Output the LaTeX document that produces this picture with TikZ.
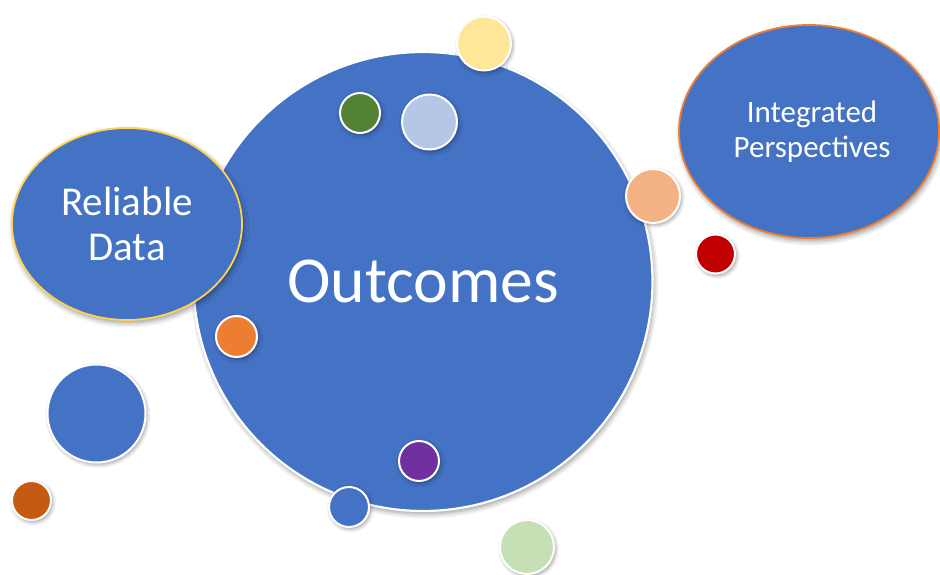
\documentclass[tikz,border=0pt]{standalone}
\usepackage{fontspec}
\setmainfont{Carlito}
\usetikzlibrary{shapes.geometric,shadows.blur}
\definecolor{mblue}{HTML}{4472C4}
\definecolor{mgold}{HTML}{FFD34D}
\definecolor{morange}{HTML}{ED7D31}
\definecolor{myellow}{HTML}{FFE699}
\definecolor{mgreen}{HTML}{548235}
\definecolor{mlblue}{HTML}{B4C7E7}
\definecolor{mpeach}{HTML}{F4B183}
\definecolor{mred}{HTML}{C00000}
\definecolor{mbrown}{HTML}{C55A11}
\definecolor{mpurple}{HTML}{7030A0}
\definecolor{mlgreen}{HTML}{C5E0B4}
\tikzset{
  dot/.style={circle,inner sep=0pt,draw=white,line width=2pt,
    blur shadow={shadow xshift=1.5pt,shadow yshift=-2pt,shadow blur steps=6,shadow opacity=40,shadow blur radius=4pt}},
  bubble/.style={ellipse,inner sep=0pt,line width=1.8pt,fill=mblue,text=white,align=center,
    blur shadow={shadow xshift=1.5pt,shadow yshift=-3pt,shadow blur steps=6,shadow opacity=40,shadow blur radius=5pt}},
}
\begin{document}
\begin{tikzpicture}[x=1pt,y=-1pt]
\useasboundingbox (0,0) rectangle (940,575);
% main circle
\node[circle,inner sep=0pt,minimum size=459pt,fill=mblue,draw=white,line width=2.2pt,text=white,
  font=\fontsize{65.6}{70}\selectfont,
  blur shadow={shadow xshift=1.5pt,shadow yshift=-3pt,shadow blur steps=6,shadow opacity=40,shadow blur radius=5pt}] (main) at (423,281.5) {Outcomes};
% ellipses
\node[bubble,draw=mgold,minimum width=230pt,minimum height=192pt,font=\fontsize{41}{45}\selectfont] (rel) at (127,224) {Reliable\\Data};
\node[bubble,draw=morange,minimum width=260pt,minimum height=213pt,font=\fontsize{31}{35}\selectfont] (int) at (809,131.5) {\hspace*{6pt}Integrated\\\hspace*{6pt}Perspectives};
% small circles
\node[dot,fill=myellow,minimum size=54pt] (c1) at (484,43.5) {};
\node[dot,fill=mgreen,minimum size=40pt] (c2) at (360,113) {};
\node[dot,fill=mlblue,minimum size=55pt] (c3) at (429.5,122) {};
\node[dot,fill=mpeach,minimum size=54pt] (c4) at (653,196) {};
\node[dot,fill=mred,minimum size=39pt] (c5) at (715.5,254) {};
\node[dot,fill=morange,minimum size=41pt] (c6) at (236.5,336.5) {};
\node[dot,fill=mblue,minimum size=98pt] (c7) at (96.5,413.5) {};
\node[dot,fill=mbrown,minimum size=39pt] (c8) at (31.5,500.5) {};
\node[dot,fill=mpurple,minimum size=40pt] (c9) at (419,461) {};
\node[dot,fill=mblue,minimum size=40pt] (c10) at (349,507) {};
\node[dot,fill=mlgreen,minimum size=54pt] (c11) at (527,547) {};
\end{tikzpicture}
\end{document}
